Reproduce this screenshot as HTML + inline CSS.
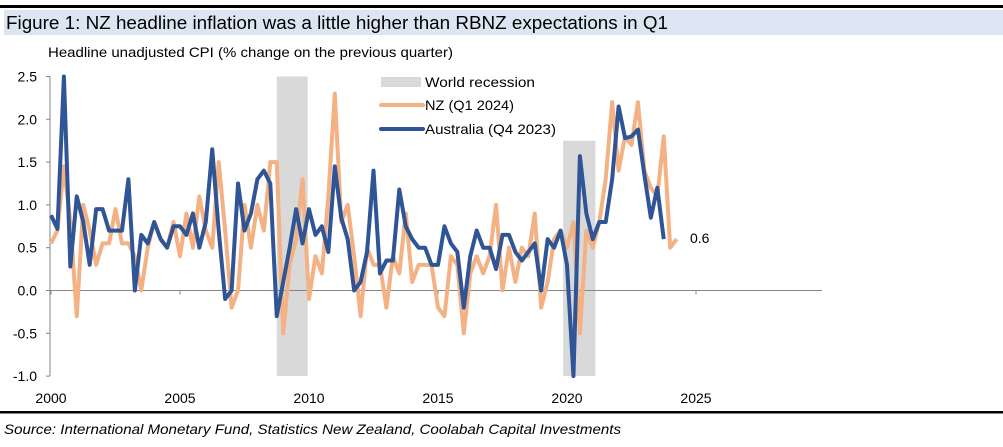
<!DOCTYPE html>
<html><head><meta charset="utf-8"><style>
body{margin:0;background:#fff;width:1003px;height:442px;overflow:hidden;font-family:"Liberation Sans",sans-serif}
</style></head><body>
<svg width="1003" height="442" xmlns="http://www.w3.org/2000/svg">
<rect x="0" y="5" width="1003" height="3" fill="#000"/>
<rect x="4" y="10" width="999" height="25" fill="#dce6f2"/>
<text x="6" y="29" font-size="18" textLength="662" lengthAdjust="spacingAndGlyphs" fill="#000">Figure 1: NZ headline inflation was a little higher than RBNZ expectations in Q1</text>
<text x="48" y="57" font-size="14" textLength="405" lengthAdjust="spacingAndGlyphs" fill="#000">Headline unadjusted CPI (% change on the previous quarter)</text>
<g id="rec"></g>
<g id="axes"></g>
<g id="lines"></g>
<g>
<rect x="381" y="77" width="40" height="10" fill="#d9d9d9"/>
<text x="425" y="87" font-size="14" textLength="110" lengthAdjust="spacingAndGlyphs">World recession</text>
<line x1="381" y1="105" x2="423" y2="105" stroke="#f4b183" stroke-width="4" stroke-linecap="round"/>
<text x="425" y="110" font-size="14" textLength="89" lengthAdjust="spacingAndGlyphs">NZ (Q1 2024)</text>
<line x1="381" y1="129" x2="423" y2="129" stroke="#2f5597" stroke-width="4" stroke-linecap="round"/>
<text x="425" y="134" font-size="14" textLength="131" lengthAdjust="spacingAndGlyphs">Australia (Q4 2023)</text>
</g>
<text x="690" y="243" font-size="14">0.6</text>
<rect x="0" y="411" width="1003" height="2.5" fill="#000"/>
<text x="4" y="434" font-size="14" font-style="italic" textLength="617" lengthAdjust="spacingAndGlyphs">Source: International Monetary Fund, Statistics New Zealand, Coolabah Capital Investments</text>
</svg>
<script>
const yTicks=[2.5,2.0,1.5,1.0,0.5,0.0,-0.5,-1.0];
const xTicks=[2000,2005,2010,2015,2020,2025];
const recessions=[[2008.75,2009.95,2.5],[2019.85,2021.1,1.75]];
const nz=[0.55,0.7,1.45,0.8, -0.3,1.0,0.7,0.3, 0.55,0.55,0.95,0.55, 0.55,0.4,0.0,0.5,
0.8,0.6,0.5,0.8, 0.4,0.9,0.5,1.1, 0.7,0.5,1.5,0.7, -0.2,0.0,1.0,0.5,
1.0,0.7,1.5,1.5, -0.5,0.3,0.6,1.3, -0.1,0.4,0.2,1.1, 2.3,0.8,1.0,0.4,
-0.3,0.5,0.3,0.3, -0.2,0.4,0.2,0.9, 0.1,0.3,0.3,0.3, -0.2,-0.3,0.4,0.3,
-0.5,0.2,0.4,0.2, 0.4,1.0,0.0,0.5, 0.1,0.5,0.4,0.9, -0.2,0.1,0.6,0.7,
0.5,0.8,-0.5,0.7, 0.5,0.8,1.3,2.2, 1.4,1.8,1.7,2.2, 1.4,1.2,1.1,1.8, 0.5,0.6];
const au=[0.88,0.72,3.7,0.28, 1.1,0.8,0.3,0.95, 0.95,0.7,0.7,0.7, 1.3,0.0,0.65,0.55,
0.8,0.6,0.5,0.75, 0.75,0.65,0.9,0.5, 0.8,1.65,0.7,-0.1, 0.0,1.25,0.7,0.9,
1.3,1.4,1.25,-0.3, 0.1,0.5,0.95,0.55, 0.95,0.65,0.75,0.45, 1.45,0.85,0.6,0.0,
0.1,0.45,1.4,0.2, 0.35,0.35,1.18,0.75, 0.6,0.5,0.5,0.3, 0.3,0.75,0.55,0.45,
-0.2,0.4,0.7,0.5, 0.5,0.25,0.65,0.65, 0.45,0.35,0.45,0.55, 0.0,0.6,0.5,0.7,
0.3,-1.9,1.57,0.9, 0.6,0.8,0.8,1.3, 2.15,1.78,1.8,1.88, 1.35,0.85,1.2,0.6];
const NS='http://www.w3.org/2000/svg';
const X0=51,QW=6.45,Y0=290.5,YU=85.6,YMAX=2.5,YMIN=-1.0;
const xq=i=>X0+QW*i;
const xy=yr=>X0+QW*4*(yr-2000);
const yv=v=>Y0-YU*Math.max(YMIN,Math.min(YMAX,v));
function mk(t,a,p){const e=document.createElementNS(NS,t);for(const k in a)e.setAttribute(k,a[k]);p.appendChild(e);return e;}
const rec=document.getElementById('rec');
recessions.forEach(r=>{
const e=mk('rect',{x:xy(r[0]),y:yv(r[2]),width:xy(r[1])-xy(r[0]),height:yv(YMIN)-yv(r[2]),fill:'#d9d9d9'},rec);


});
const ax=document.getElementById('axes');
let e=mk('line',{x1:50,y1:yv(YMAX),x2:50,y2:yv(YMIN),stroke:'#868686','stroke-width':1},ax);


yTicks.forEach(v=>{
const t=mk('line',{x1:46,y1:yv(v),x2:50,y2:yv(v),stroke:'#868686'},ax);


const l=mk('text',{x:37,y:yv(v)+5,'font-size':14,'text-anchor':'end'},ax);
l.textContent=v.toFixed(1);


});
e=mk('line',{x1:50,y1:Y0,x2:822,y2:Y0,stroke:'#868686','stroke-width':1},ax);


xTicks.forEach(v=>{
const t=mk('line',{x1:xy(v),y1:Y0,x2:xy(v),y2:Y0+4,stroke:'#868686'},ax);


const l=mk('text',{x:xy(v),y:403,'font-size':14,'text-anchor':'middle'},ax);
l.textContent=v;


});
const lg=document.getElementById('lines');
function series(d,c,n){
const p=mk('polyline',{points:d.map((v,i)=>xq(i)+','+yv(v)).join(' '),fill:'none',stroke:c,'stroke-width':4,'stroke-linejoin':'round'},lg);


}
series(nz,'#f4b183','nz-line');
series(au,'#2f5597','australia-line');
</script>
</body></html>
